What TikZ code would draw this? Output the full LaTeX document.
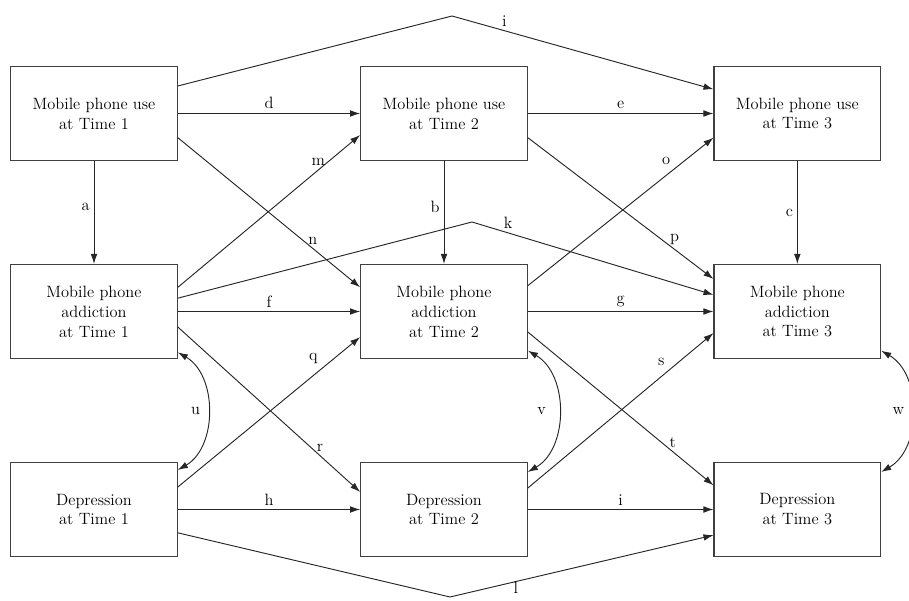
\documentclass[tikz,border=0pt]{standalone}
\usetikzlibrary{shapes, arrows.meta}
\tikzstyle{construct} = [rectangle, minimum width=5cm, minimum height=2.82cm, text centered, draw=black!75, line width=0.9pt]
\tikzstyle{arrow} = [line width=0.8pt, draw=black!85, -{Latex[length=3mm, width=2mm]}]
\tikzstyle{corr} = [line width=0.8pt, draw=black!85, {Latex[length=3mm, width=2mm]}-{Latex[length=3mm, width=2mm]}, bend left=60]

\begin{document}
\begin{tikzpicture}[node distance=5.94cm, align=center, font=\fontsize{14}{17}\selectfont]
    \useasboundingbox (0,0) rectangle (27.27,18);
    \node (use1) [construct] at (2.82,14.595) {Mobile phone use\\at Time 1};
    \node (use2) [construct, node distance=10.5cm, right of=use1] {Mobile phone use\\at Time 2};
    \node (use3) [construct, node distance=10.6cm, right of=use2] {Mobile phone use\\at Time 3};
    \node (add1) [construct, below of=use1] {Mobile phone\\addiction\\at Time 1};
    \node (add2) [construct, below of=use2] {Mobile phone\\addiction\\at Time 2};
    \node (add3) [construct, below of=use3] {Mobile phone\\addiction\\at Time 3};
    \node (dep1) [construct, below of=add1] {Depression\\at Time 1};
    \node (dep2) [construct, below of=add2] {Depression\\at Time 2};
    \node (dep3) [construct, below of=add3] {Depression\\at Time 3};

    % stability paths
    \draw [arrow] (use1) -- node[left, pos=0.45] {a} (add1);
    \draw [arrow] (use2) -- node[left, pos=0.45] {b} (add2);
    \draw [arrow] (use3) -- node[left, pos=0.5] {c} (add3);
    \draw [arrow] (use1) -- node[above] {d} (use2);
    \draw [arrow] (use2) -- node[above] {e} (use3);
    \draw [arrow] (add1) -- node[above] {f} (add2);
    \draw [arrow] (add2) -- node[above] {g} (add3);
    \draw [arrow] (dep1) -- node[above] {h} (dep2);
    \draw [arrow] (dep2) -- node[above] {i} (dep3);

    % cross-lagged paths
    \draw [arrow] ([yshift=-0.7cm]add1.north east) -- node[pos=0.77, above] {m} ([yshift=0.78cm]use2.south west);
    \draw [arrow] ([yshift=0.7cm]use1.south east) -- node[pos=0.74, above] {n} ([yshift=-0.7cm]add2.north west);
    \draw [arrow] ([yshift=-0.65cm]add2.north east) -- node[pos=0.79, above left] {o} ([yshift=0.7cm]use3.south west);
    \draw [arrow] ([yshift=0.7cm]use2.south east) -- node[pos=0.79, above] {p} ([yshift=-0.45cm]add3.north west);
    \draw [arrow] ([yshift=-0.75cm]dep1.north east) -- node[pos=0.79, above left] {q} ([yshift=0.66cm]add2.south west);
    \draw [arrow] ([yshift=0.96cm]add1.south east) -- node[pos=0.78, above] {r} ([yshift=-0.9cm]dep2.north west);
    \draw [arrow] ([yshift=-0.78cm]dep2.north east) -- node[pos=0.76, above left] {s} ([yshift=0.78cm]add3.south west);
    \draw [arrow] ([yshift=0.81cm]add2.south east) -- node[pos=0.78, above] {t} ([yshift=-0.7cm]dep3.north west);

    % long paths over two waves
    \coordinate (ibend) at (13.56,17.52);
    \coordinate (kbend) at (14.16,11.34);
    \coordinate (lbend) at (13.5,0.09);
    \draw [arrow] ([yshift=-0.6cm]use1.north east) -- (ibend) -- node[pos=0.2, above] {i} ([yshift=-0.7cm]use3.north west);
    \draw [arrow] ([yshift=0.4cm]add1.east) -- (kbend) -- node[pos=0.15, above] {k} ([yshift=0.5cm]add3.west);
    \draw [arrow] ([yshift=-0.7cm]dep1.east) -- (lbend) -- node[pos=0.25, below, inner sep=0.5pt] {l} ([yshift=-0.77cm]dep3.west);

    % correlations
    \draw [corr] ([yshift=0.2cm]add1.south east) to node[left, xshift=-0.1cm] {u} ([yshift=-0.24cm]dep1.north east);
    \draw [corr] ([yshift=0.25cm]add2.south east) to node[left, xshift=-0.25cm] {v} ([yshift=-0.3cm]dep2.north east);
    \draw [corr] ([yshift=0.25cm]add3.south east) to node[left, xshift=-0.1cm] {w} ([yshift=-0.3cm]dep3.north east);
\end{tikzpicture}
\end{document}
